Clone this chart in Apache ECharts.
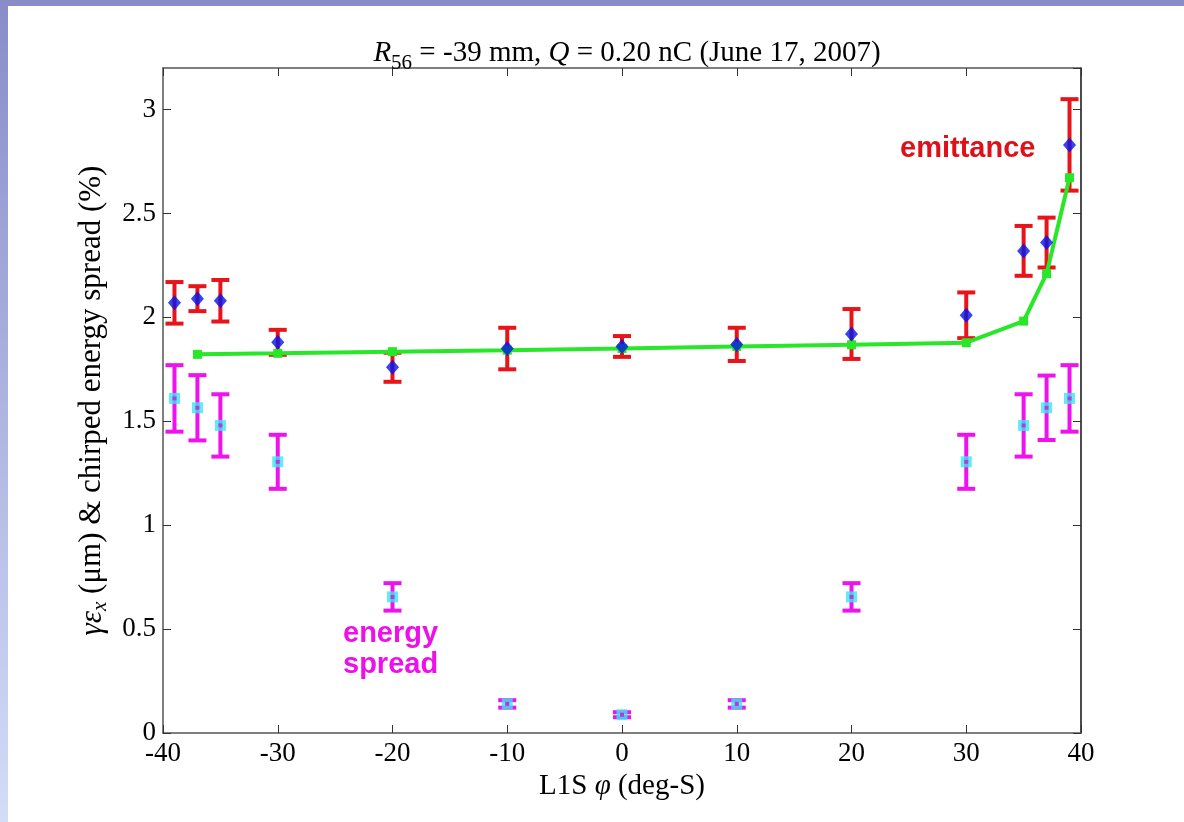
<!DOCTYPE html>
<html>
<head>
<meta charset="utf-8">
<script src="https://cdn.jsdelivr.net/npm/echarts@6/dist/echarts.min.js"></script>
<style>html,body{margin:0;padding:0;background:#fff;}#c{width:1184px;height:822px;}</style>
</head>
<body>
<div id="c"></div>
<script>
// ---- data ----
const phase = [-39, -37, -35, -30, -20, -10, 0, 10, 20, 30, 35, 37, 39];
const emittance = [2.07, 2.09, 2.08, 1.88, 1.76, 1.85, 1.86, 1.87, 1.92, 2.01, 2.32, 2.36, 2.83];
const emittanceErr = [0.10, 0.06, 0.10, 0.06, 0.07, 0.10, 0.05, 0.08, 0.12, 0.11, 0.12, 0.12, 0.22];
const simPhase = [-37, -30, -20, -10, 0, 10, 20, 30, 35, 37, 39];
const simEmittance = [1.822, 1.827, 1.835, 1.842, 1.850, 1.860, 1.868, 1.878, 1.982, 2.210, 2.672];
const spread = [1.61, 1.565, 1.48, 1.305, 0.655, 0.14, 0.088, 0.14, 0.655, 1.305, 1.48, 1.565, 1.61];
const spreadErr = [0.16, 0.157, 0.15, 0.13, 0.066, 0.018, 0.012, 0.018, 0.066, 0.13, 0.15, 0.155, 0.16];
const xTicks = [-40, -30, -20, -10, 0, 10, 20, 30, 40];
const yTicks = [0, 0.5, 1, 1.5, 2, 2.5, 3];

const SERIF = '"Liberation Serif","Times New Roman",serif';
const SANS = '"Liberation Sans",Arial,sans-serif';

function errData(xs, ys, es) { return xs.map((x, i) => [x, ys[i] - es[i], ys[i] + es[i]]); }
function errRender(color) {
  return function (params, api) {
    const lo = api.coord([api.value(0), api.value(1)]);
    const hi = api.coord([api.value(0), api.value(2)]);
    const w = 9;
    const st = { stroke: color, lineWidth: 4 };
    return {
      type: 'group',
      children: [
        { type: 'line', shape: { x1: lo[0], y1: lo[1], x2: hi[0], y2: hi[1] }, style: st },
        { type: 'line', shape: { x1: lo[0] - w, y1: lo[1], x2: lo[0] + w, y2: lo[1] }, style: st },
        { type: 'line', shape: { x1: hi[0] - w, y1: hi[1], x2: hi[0] + w, y2: hi[1] }, style: st }
      ]
    };
  };
}

const chart = echarts.init(document.getElementById('c'), null, { renderer: 'canvas' });
const grid = { left: 163, top: 68, width: 918, height: 665 };
const axisLine = { show: true, onZero: false, lineStyle: { color: '#555', width: 1.5 } };
const tick = { show: true, inside: true, length: 8, lineStyle: { color: '#333', width: 1 } };

chart.setOption({
  animation: false,
  backgroundColor: '#fff',
  title: {
    text: '{i|R}{s|56}{n| = -39 mm, }{i|Q}{n| = 0.20 nC (June 17, 2007)}',
    left: 622, top: 27, textAlign: 'center',
    textStyle: {
      fontWeight: 'normal',
      rich: {
        i: { fontFamily: SERIF, fontSize: 29, fontStyle: 'italic', fontWeight: 'normal', color: '#000', lineHeight: 42, verticalAlign: 'middle' },
        n: { fontFamily: SERIF, fontSize: 29, fontWeight: 'normal', color: '#000', lineHeight: 42, verticalAlign: 'middle' },
        s: { fontFamily: SERIF, fontSize: 21, fontWeight: 'normal', color: '#000', lineHeight: 42, verticalAlign: 'bottom' }
      }
    }
  },
  grid: grid,
  graphic: [
    { type: 'rect', shape: { x: 0, y: 0, width: 1184, height: 6 }, style: { fill: '#8a8cc8' }, z: 100 },
    { type: 'rect', shape: { x: 0, y: 0, width: 8, height: 822 },
      style: { fill: new echarts.graphic.LinearGradient(0, 0, 0, 1, [{ offset: 0, color: '#8a8cc8' }, { offset: 1, color: '#d4dcf8' }]) }, z: 100 },
    { type: 'text', left: 900, top: 134, style: { text: 'emittance', font: 'bold 29px ' + SANS, fill: '#e01018' }, z: 50 },
    { type: 'text', left: 343, top: 618, style: { text: 'energy\nspread', font: 'bold 29px ' + SANS, fill: '#ee10e8', align: 'center', lineHeight: 31, x: 47 }, z: 50 }
  ],
  xAxis: [
    {
      type: 'value', min: xTicks[0], max: xTicks[xTicks.length - 1], interval: 10,
      axisLine: axisLine, axisTick: tick, splitLine: { show: false },
      axisLabel: { fontFamily: SERIF, fontSize: 27, color: '#000', margin: 7 },
      name: '{n|L1S }{i|φ}{n| (deg-S)}', nameLocation: 'middle', nameGap: 36,
      nameTextStyle: {
        rich: {
          n: { fontFamily: SERIF, fontSize: 29, color: '#000' },
          i: { fontFamily: SERIF, fontSize: 29, fontStyle: 'italic', color: '#000' }
        }
      }
    },
    {
      type: 'value', position: 'top', min: xTicks[0], max: xTicks[xTicks.length - 1], interval: 10,
      axisLine: axisLine, axisTick: tick, axisLabel: { show: false }, splitLine: { show: false }
    }
  ],
  yAxis: [
    {
      type: 'value', min: 0, max: 3.2, interval: 0.5,
      axisLine: axisLine, axisTick: tick, splitLine: { show: false },
      axisLabel: { fontFamily: SERIF, fontSize: 27, color: '#000', margin: 7, showMaxLabel: false,
        formatter: v => yTicks.indexOf(v) >= 0 ? String(v) : '' },
      name: '{g|γε}{s|x}{n| (μm) & chirped energy spread (%)}', nameLocation: 'middle', nameGap: 46, nameRotate: 90,
      nameTextStyle: {
        rich: {
          g: { fontFamily: SERIF, fontSize: 31, fontStyle: 'italic', color: '#000', lineHeight: 38, verticalAlign: 'middle' },
          n: { fontFamily: SERIF, fontSize: 31, color: '#000', lineHeight: 38, verticalAlign: 'middle' },
          s: { fontFamily: SERIF, fontSize: 21, fontStyle: 'italic', color: '#000', lineHeight: 38, verticalAlign: 'bottom' }
        }
      }
    },
    {
      type: 'value', position: 'right', min: 0, max: 3.2, interval: 0.5,
      axisLine: { show: true, onZero: false, lineStyle: { color: '#111', width: 1.5 } }, axisTick: tick,
      axisLabel: { show: false }, splitLine: { show: false }
    }
  ],
  series: [
    {
      type: 'custom', name: 'emittance err', renderItem: errRender('#e8141a'),
      data: errData(phase, emittance, emittanceErr), encode: { x: 0, y: [1, 2] }, z: 2, silent: true
    },
    {
      type: 'line', name: 'sim', data: simPhase.map((x, i) => [x, simEmittance[i]]),
      lineStyle: { color: '#28e628', width: 4 }, itemStyle: { color: '#28e628' },
      symbol: 'rect', symbolSize: 9, showSymbol: true, z: 3, silent: true
    },
    {
      type: 'scatter', name: 'emittance', data: phase.map((x, i) => [x, emittance[i]]),
      symbol: 'diamond', symbolSize: [13, 15], itemStyle: { color: '#0414ea' }, z: 4, silent: true
    },
    {
      type: 'custom', name: 'spread err', renderItem: errRender('#ee12ee'),
      data: errData(phase, spread, spreadErr), encode: { x: 0, y: [1, 2] }, z: 2, silent: true
    },
    {
      type: 'scatter', name: 'spread', data: phase.map((x, i) => [x, spread[i]]),
      symbol: 'rect', symbolSize: 11, itemStyle: { color: '#3ae6f2', borderRadius: 2 }, z: 4, silent: true
    },
    {
      type: 'scatter', name: 'spread dot', data: phase.map((x, i) => [x, spread[i]]),
      symbol: 'rect', symbolSize: 4, itemStyle: { color: '#c020d0' }, z: 5, silent: true
    }
  ]
});
</script>
</body>
</html>
